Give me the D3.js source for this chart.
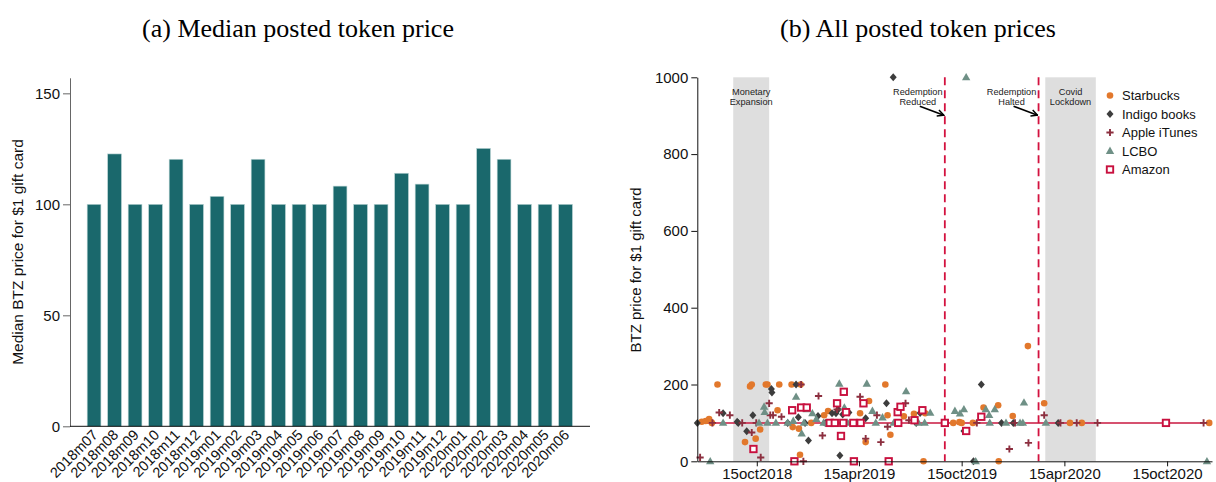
<!DOCTYPE html>
<html>
<head>
<meta charset="utf-8">
<script src="https://cdn.jsdelivr.net/npm/d3@7"></script>
<style>
  body { margin: 0; background: #fff; }
  svg { display: block; }
</style>
</head>
<body>
<svg id="chart" width="1216" height="482"></svg>
<script>
// ---------- Panel (a): monthly median posted price ----------
const months = ["2018m07","2018m08","2018m09","2018m10","2018m11","2018m12",
  "2019m01","2019m02","2019m03","2019m04","2019m05","2019m06","2019m07","2019m08",
  "2019m09","2019m10","2019m11","2019m12","2020m01","2020m02","2020m03","2020m04",
  "2020m05","2020m06"];
const medianPrice = [100,122.7,100,100,120.3,100,103.6,100,120.3,100,100,100,
  108.2,100,100,114,109.1,100,100,125.2,120.3,100,100,100];
const medianTicks = [0,50,100,150];

// ---------- Panel (b): every posted price, by retailer ----------
const starbucksDates = ["2018-07-09","2018-07-16","2018-07-22","2018-07-27","2018-08-06","2018-09-24",
  "2018-10-03","2018-10-06","2018-10-13","2018-10-21","2018-10-31","2018-11-03","2018-11-21","2018-11-24",
  "2018-12-16","2018-12-18","2018-12-29","2018-12-31","2019-01-01","2019-01-20","2019-02-12","2019-02-19",
  "2019-03-01","2019-04-17","2019-04-27","2019-05-03","2019-06-01","2019-06-05","2019-06-10","2019-07-04",
  "2019-07-22","2019-08-08","2019-08-11","2019-09-30","2019-10-11","2019-10-15","2019-11-04","2019-11-23",
  "2019-12-19","2019-12-20","2020-01-14","2020-02-10","2020-03-10","2020-04-25","2020-05-16","2020-12-29"];
const starbucksPrices = [103,105,110,100,200,50,195,200,59,83,200,200,133,200,
  200,89,85,17,200,100,120,131,100,125,50,157,200,120,69,117,
  124,0,125,100,102,100,100,140,146,0,118,300,151,100,100,100];

const indigoDates = ["2018-07-01","2018-08-16","2018-09-10","2018-09-12","2018-09-27","2018-10-08",
  "2018-11-10","2018-11-11","2018-12-09","2018-12-24","2018-12-28","2019-01-09","2019-01-15","2019-02-01",
  "2019-02-14","2019-02-26","2019-03-05","2019-03-09","2019-03-12","2019-03-17","2019-03-28","2019-04-10",
  "2019-04-27","2019-06-03","2019-06-15","2019-07-26","2019-08-02","2019-10-19","2019-11-05","2019-11-19",
  "2019-12-25","2020-01-15","2020-04-04"];
const indigoPrices = [100,125,103,100,78,120,188,179,100,200,115,100,54,118,
  100,125,125,135,15,122,127,100,112,151,1000,100,126,79,0,200,100,100,100];

const itunesDates = ["2018-07-06","2018-07-28","2018-08-09","2018-08-28","2018-09-19","2018-10-06",
  "2018-10-14","2018-10-22","2018-11-06","2018-11-08","2018-11-13","2018-11-28","2019-01-02","2019-01-06",
  "2019-02-02","2019-02-09","2019-02-21","2019-03-07","2019-04-17","2019-04-27","2019-05-17","2019-05-24",
  "2019-06-05","2019-07-07","2019-07-13","2019-11-11","2020-01-08","2020-01-18","2020-02-11","2020-03-10",
  "2020-04-08","2020-05-07","2020-06-13","2020-12-19"];
const itunesPrices = [10,100,127,120,100,75,100,10,151,120,120,116,200,0,
  170,67,100,135,168,59,120,50,90,151,107,100,32,100,48,120,100,100,100,100];

const lcboDates = ["2018-07-24","2018-08-16","2018-10-19","2018-10-28","2018-10-29","2018-11-03",
  "2018-11-18","2018-12-09","2018-12-19","2018-12-24","2019-01-03","2019-01-07","2019-01-12","2019-01-22",
  "2019-01-29","2019-02-11","2019-02-17","2019-03-11","2019-03-20","2019-03-26","2019-04-29","2019-05-09",
  "2019-05-15","2019-05-27","2019-06-16","2019-07-08","2019-07-30","2019-08-10","2019-08-20","2019-10-03",
  "2019-10-12","2019-10-19","2019-10-23","2019-11-09","2019-11-27","2019-12-03","2019-12-04","2019-12-13",
  "2020-01-02","2020-01-27","2020-02-01","2020-02-03","2020-03-13","2020-12-25"];
const lcboPrices = [0,100,100,142,128,100,100,100,105,168,72,100,135,125,
  110,100,100,202,140,100,202,131,100,114,100,182,100,100,126,131,
  124,135,1000,0,135,120,100,135,100,100,100,153,100,0];

const amazonDates = ["2018-10-09","2018-12-17","2018-12-21","2019-01-02","2019-01-12","2019-02-22",
  "2019-03-03","2019-03-07","2019-03-14","2019-03-18","2019-03-19","2019-03-23","2019-04-05","2019-04-06",
  "2019-04-18","2019-04-23","2019-06-07","2019-06-23","2019-06-24","2019-06-28","2019-07-23","2019-08-06",
  "2019-09-15","2019-10-23","2019-11-19","2020-10-13"];
const amazonPrices = [32,133,0,140,140,100,100,151,66,100,181,128,100,0,
  100,151,0,128,100,142,107,133,100,79,116,100];

const priceTicks = [0,200,400,600,800,1000];
const dateTicks = ["2018-10-15","2019-04-15","2019-10-15","2020-04-15","2020-10-15"];
const shadedPeriods = [
  {start: "2018-09-03", end: "2018-11-06", lines: ["Monetary","Expansion"]},
  {start: "2020-03-12", end: "2020-06-10", lines: ["Covid","Lockdown"]}
];
const policyDates = [
  {date: "2019-09-15", lines: ["Redemption","Reduced"]},
  {date: "2020-02-29", lines: ["Redemption","Halted"]}
];
const refLevel = 100;

// ---------- drawing ----------
const sans = "'Liberation Sans', Arial, Helvetica, sans-serif";
const serif = "'Liberation Serif', 'Times New Roman', serif";
const parse = d3.timeParse("%Y-%m-%d");
const svg = d3.select("#chart");

const defs = svg.append("defs");
defs.append("marker").attr("id", "arrowHead")
  .attr("viewBox", "0 0 10 10").attr("refX", 9).attr("refY", 5)
  .attr("markerWidth", 8).attr("markerHeight", 8).attr("markerUnits", "userSpaceOnUse")
  .attr("orient", "auto")
  .append("path").attr("d", "M1,1 L9,5 L1,9").attr("fill", "none")
  .attr("stroke", "#000").attr("stroke-width", 1.8);

// Titles
svg.append("text").attr("x", 298).attr("y", 37).attr("text-anchor", "middle")
  .attr("font-family", serif).attr("font-size", 26).attr("fill", "#000")
  .text("(a) Median posted token price");
svg.append("text").attr("x", 918).attr("y", 37).attr("text-anchor", "middle")
  .attr("font-family", serif).attr("font-size", 26).attr("fill", "#000")
  .text("(b) All posted token prices");

// ---- panel (a)
const yA = d3.scaleLinear().domain([0, 157]).range([426.3, 77.8]);
const xA = d3.scaleBand().domain(months).range([83.8, 575.8])
  .paddingInner(0.33).paddingOuter(0.165);

const gA = svg.append("g");
gA.selectAll("rect.bar").data(months).join("rect").attr("class", "bar")
  .attr("x", d => xA(d)).attr("width", xA.bandwidth())
  .attr("y", (d, i) => yA(medianPrice[i]))
  .attr("height", (d, i) => yA(0) - yA(medianPrice[i]))
  .attr("fill", "#1a686c").attr("stroke", "#b8d3d3").attr("stroke-width", 0.6);

const axA = gA.append("g").attr("transform", "translate(70,0)")
  .call(d3.axisLeft(yA).tickValues(medianTicks).tickSize(7).tickPadding(3).tickSizeOuter(0));
axA.select(".domain").attr("stroke", "#666");
axA.selectAll(".tick line").attr("stroke", "#666");
axA.selectAll("text").attr("font-family", sans).attr("font-size", 15).attr("fill", "#111");

gA.append("line").attr("x1", 70).attr("x2", 590).attr("y1", yA(0)).attr("y2", yA(0))
  .attr("stroke", "#111").attr("stroke-width", 1);

gA.selectAll("text.month").data(months).join("text").attr("class", "month")
  .attr("transform", d => `translate(${xA(d) + xA.bandwidth() / 2 + 1},${yA(0) + 6}) rotate(-45)`)
  .attr("text-anchor", "end").attr("dy", "0.35em")
  .attr("font-family", sans).attr("font-size", 14.5).attr("fill", "#111")
  .text(d => d);

gA.append("text").attr("transform", `translate(23,252) rotate(-90)`)
  .attr("text-anchor", "middle").attr("font-family", sans).attr("font-size", 15.5)
  .attr("fill", "#111").text("Median BTZ price for $1 gift card");

// ---- panel (b)
const xB = d3.scaleTime().domain([parse("2018-07-01"), parse("2021-01-03")]).range([697.3, 1212]);
const yB = d3.scaleLinear().domain([0, 1000]).range([461.3, 77.3]);
const gB = svg.append("g");

// shaded periods
gB.selectAll("rect.period").data(shadedPeriods).join("rect").attr("class", "period")
  .attr("x", d => xB(parse(d.start))).attr("width", d => xB(parse(d.end)) - xB(parse(d.start)))
  .attr("y", yB(1000)).attr("height", yB(0) - yB(1000)).attr("fill", "#dedede");

gB.selectAll("text.periodLabel").data(shadedPeriods.flatMap(p =>
    p.lines.map((t, i) => ({t, i, x: (xB(parse(p.start)) + xB(parse(p.end))) / 2}))))
  .join("text").attr("class", "periodLabel")
  .attr("x", d => d.x).attr("y", d => yB(1000) + 18 + d.i * 9.8)
  .attr("text-anchor", "middle").attr("font-family", sans).attr("font-size", 9.2)
  .attr("fill", "#222").text(d => d.t);

// policy change lines
gB.selectAll("line.policy").data(policyDates).join("line").attr("class", "policy")
  .attr("x1", d => xB(parse(d.date))).attr("x2", d => xB(parse(d.date)))
  .attr("y1", yB(1000)).attr("y2", yB(0))
  .attr("stroke", "#d3123f").attr("stroke-width", 1.8).attr("stroke-dasharray", "8,5");

gB.selectAll("text.policyLabel").data(policyDates.flatMap(p =>
    p.lines.map((t, i) => ({t, i, x: xB(parse(p.date)) - 27}))))
  .join("text").attr("class", "policyLabel")
  .attr("x", d => d.x).attr("y", d => yB(1000) + 18 + d.i * 9.8)
  .attr("text-anchor", "middle").attr("font-family", sans).attr("font-size", 9.2)
  .attr("fill", "#222").text(d => d.t);

gB.selectAll("line.arrow").data(policyDates).join("line").attr("class", "arrow")
  .attr("x1", d => xB(parse(d.date)) - 25).attr("y1", yB(1000) + 29)
  .attr("x2", d => xB(parse(d.date)) - 1).attr("y2", yB(1000) + 38)
  .attr("stroke", "#000").attr("stroke-width", 1.7).attr("marker-end", "url(#arrowHead)");

// reference level
gB.append("line")
  .attr("x1", xB(parse("2018-07-01"))).attr("x2", xB(parse("2020-12-29")))
  .attr("y1", yB(refLevel)).attr("y2", yB(refLevel))
  .attr("stroke", "#c8173f").attr("stroke-width", 1.5);

// marker shapes
const shapes = {
  circle: g => g.append("circle").attr("r", 3.3),
  diamond: g => g.append("path").attr("d", "M0,-4L3.5,0L0,4L-3.5,0Z"),
  plus: g => g.append("path").attr("d", "M-3.6,0H3.6M0,-3.6V3.6"),
  triangle: g => g.append("path").attr("d", "M0,-4.4L4.2,2.9L-4.2,2.9Z"),
  square: g => g.append("rect").attr("x", -3.2).attr("y", -3.2).attr("width", 6.4).attr("height", 6.4)
};
const series = [
  {name: "Starbucks", dates: starbucksDates, prices: starbucksPrices, shape: "circle",
   style: s => s.attr("fill", "#e2782c")},
  {name: "Indigo books", dates: indigoDates, prices: indigoPrices, shape: "diamond",
   style: s => s.attr("fill", "#3d3d3d")},
  {name: "Apple iTunes", dates: itunesDates, prices: itunesPrices, shape: "plus",
   style: s => s.attr("fill", "none").attr("stroke", "#8c2f3f").attr("stroke-width", 1.9)},
  {name: "LCBO", dates: lcboDates, prices: lcboPrices, shape: "triangle",
   style: s => s.attr("fill", "#6f9086")},
  {name: "Amazon", dates: amazonDates, prices: amazonPrices, shape: "square",
   style: s => s.attr("fill", "#fff").attr("stroke", "#c8103e").attr("stroke-width", 1.9)}
];

series.forEach(s => {
  const pts = s.dates.map((d, i) => ({date: parse(d), price: s.prices[i]}));
  const g = gB.append("g");
  g.selectAll("g.pt").data(pts).join("g").attr("class", "pt")
    .attr("transform", d => `translate(${xB(d.date)},${yB(d.price)})`)
    .each(function () { s.style(shapes[s.shape](d3.select(this))); });
});

// axes
const axBy = gB.append("g").attr("transform", `translate(${xB.range()[0]},0)`)
  .call(d3.axisLeft(yB).tickValues(priceTicks).tickSize(6).tickPadding(3)
    .tickSizeOuter(0).tickFormat(d3.format("d")));
const axBx = gB.append("g").attr("transform", `translate(0,${yB(0)})`)
  .call(d3.axisBottom(xB).tickValues(dateTicks.map(parse)).tickSize(5).tickPadding(2)
    .tickSizeOuter(0).tickFormat(d => d3.timeFormat("%d%b%Y")(d).toLowerCase()));
[axBy, axBx].forEach(a => {
  a.select(".domain").attr("stroke", "#111");
  a.selectAll(".tick line").attr("stroke", "#111");
  a.selectAll("text").attr("font-family", sans).attr("font-size", 15).attr("fill", "#111");
});

gB.append("text").attr("transform", `translate(641,270) rotate(-90)`)
  .attr("text-anchor", "middle").attr("font-family", sans).attr("font-size", 15)
  .attr("fill", "#111").text("BTZ price for $1 gift card");

// legend
const legend = gB.append("g").attr("transform", "translate(1110,95.5)");
series.forEach((s, i) => {
  const row = legend.append("g").attr("transform", `translate(0,${i * 18.5})`);
  s.style(shapes[s.shape](row.append("g")));
  row.append("text").attr("x", 12).attr("y", 0).attr("dy", "0.35em")
    .attr("font-family", sans).attr("font-size", 13).attr("fill", "#111").text(s.name);
});
</script>
</body>
</html>
